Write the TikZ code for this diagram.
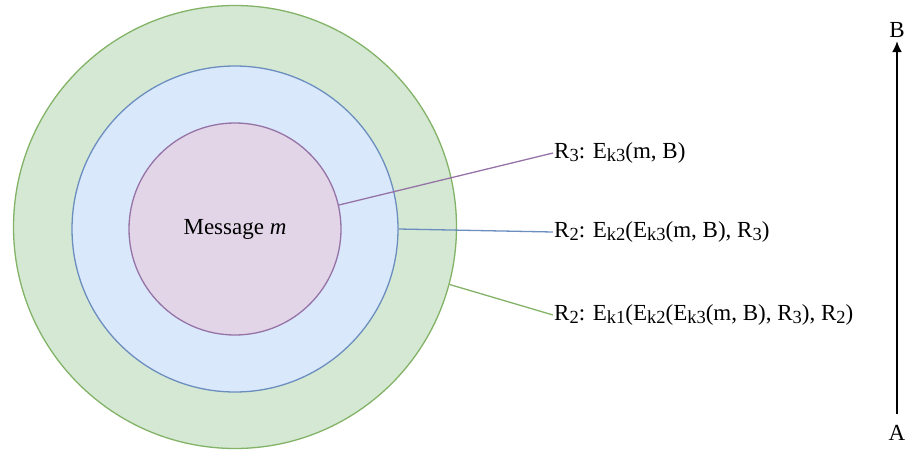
\documentclass[tikz,border=0pt]{standalone}
\usepackage{fontspec}
\setmainfont{Liberation Serif}
\usetikzlibrary{arrows.meta}
\usetikzlibrary{positioning}
\tikzset{layer/.style = {circle, draw, line width = 1.3, inner sep = 0}}
\tikzset{txt/.style = {font = \fontsize{23}{27}\selectfont}}
\tikzset{lbl/.style = {txt, anchor = west, inner sep = 1}}
\definecolor{gfill}{HTML}{D5E8D4}
\definecolor{gline}{HTML}{82B366}
\definecolor{bfill}{HTML}{DAE8FC}
\definecolor{bline}{HTML}{6C8EBF}
\definecolor{pfill}{HTML}{E1D5E7}
\definecolor{pline}{HTML}{9673A6}
\newcommand{\sub}[1]{\raisebox{-0.3ex}{\fontsize{18.5}{20}\selectfont #1}}

\begin{document}
\begin{tikzpicture}[x = 1pt, y = -1pt]
    \useasboundingbox (0, 0) rectangle (908, 450);
    \node [layer, fill = gfill, draw = gline, minimum size = 443] (outer) at (235, 227) {};
    \node [layer, fill = bfill, draw = bline, minimum size = 326] (middle) at (235, 229) {};
    \node [layer, fill = pfill, draw = pline, minimum size = 212, txt] (inner) at (235, 229) {Message \textit{m}};

    \node [lbl] (l3) at (553, 153) {R\sub{3}: E\sub{k3}(m, B)};
    \node [lbl] (l2) at (553, 232) {R\sub{2}: E\sub{k2}(E\sub{k3}(m, B), R\sub{3})};
    \node [lbl] (l1) at (553, 315) {R\sub{2}: E\sub{k1}(E\sub{k2}(E\sub{k3}(m, B), R\sub{3}), R\sub{2})};

    \draw [pline, line width = 1.3] (inner.13) -- (l3.west);
    \draw [bline, line width = 1.3] (middle.0) -- (l2.west);
    \draw [gline, line width = 1.3] (outer.-15) -- (l1.west);

    \node [txt] (a) at (897, 433) {A};
    \node [txt] (b) at (897, 30) {B};
    \draw [-{Latex[length = 11, width = 10]}, line width = 2] ([yshift = 8]a.north) -- (b.south);
  \end{tikzpicture}
\end{document}
